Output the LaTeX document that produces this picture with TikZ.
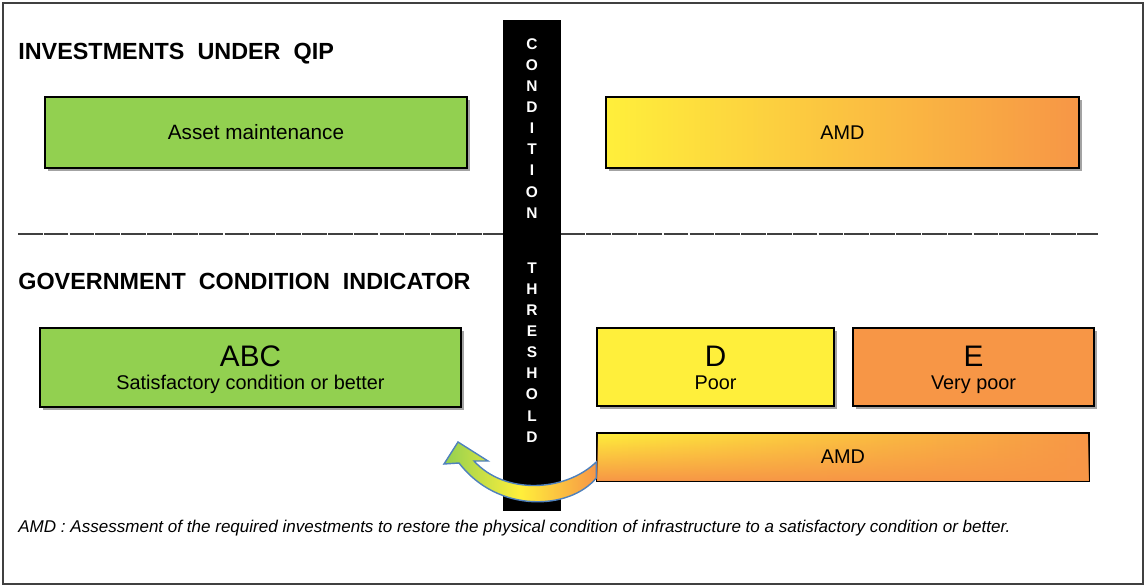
\documentclass[tikz,border=0pt]{standalone}
\usepackage{fontspec}
\setmainfont{Liberation Sans}
\usetikzlibrary{shadows, calc, fadings}
\definecolor{qgreen}{HTML}{92D050}
\definecolor{qyellow}{HTML}{FFEF3B}
\definecolor{qorange}{HTML}{F79646}
\definecolor{qblue}{HTML}{4F81BD}
\definecolor{qgray}{HTML}{404040}

\begin{document}
\begin{tikzpicture}[
  x=0.02cm, y=-0.02cm,
  every node/.style={font=\fontsize{11.3}{13}\selectfont},
  cibox/.style={rectangle, draw=black, line width=0.9pt, inner sep=0pt, align=center},
  shadowed/.style={drop shadow={shadow xshift=1.6pt, shadow yshift=-1.6pt, fill=black!45, opacity=0.8}},
  heading/.style={anchor=west, inner sep=0pt, font=\fontsize{13.3}{16}\selectfont\bfseries},
  barletter/.style={text=white, inner sep=0pt, font=\fontsize{8.8}{10}\selectfont\bfseries},
]
\useasboundingbox (0,0) rectangle (1148,587);

% Frame
\draw[qgray, line width=0.8pt] (3,3) rectangle (1143,584);

% Headings
\node[heading] (hqip) at (18,54) {INVESTMENTS\ \ UNDER\ \ QIP};
\node[heading] (hgci) at (18,281) {GOVERNMENT\ \ CONDITION\ \ INDICATOR};

% Separator
\draw[black!75, line width=0.6pt, dash pattern=on 14pt off 0.7pt] (18,234) -- (1098,234);

% Investments under QIP
\node[cibox, shadowed, fill=qgreen, minimum width=8.44cm, minimum height=1.42cm] (asset) at (256,132.5) {\fontsize{11.8}{13}\selectfont Asset maintenance};
\node[cibox, shadowed, left color=qyellow, right color=qorange, minimum width=9.46cm, minimum height=1.42cm] (amdt) at (842.5,132.5) {AMD};

% Condition indicator
\node[cibox, shadowed, fill=qgreen, minimum width=8.42cm, minimum height=1.58cm] (abc) at (250.5,367.5) {{\fontsize{16.9}{20}\selectfont\rule{0pt}{16pt}ABC}\\Satisfactory condition or better\strut};
\node[cibox, shadowed, fill=qyellow, minimum width=4.74cm, minimum height=1.56cm] (dpoor) at (715.5,367) {{\fontsize{16.9}{20}\selectfont\rule{0pt}{16pt}D}\\Poor\strut};
\node[cibox, shadowed, fill=qorange, minimum width=4.82cm, minimum height=1.56cm] (evpoor) at (973.5,367) {{\fontsize{16.9}{20}\selectfont\rule{0pt}{16pt}E}\\Very poor\strut};
\node[cibox, left color=qyellow, right color=qorange, postaction={fill=qorange, path fading=north},
  minimum width=9.84cm, minimum height=0.96cm] (amdl) at (843,457) {AMD};

% Threshold bar
\node[fill=black, inner sep=0pt, minimum width=1.16cm, minimum height=9.82cm] (thr) at (532,265.5) {};
\foreach \ch [count=\i from 0] in {C,O,N,D,I,T,I,O,N}
  \node[barletter] (c\i) at (532, 44+21.1*\i) {\ch};
\foreach \ch [count=\i from 0] in {T,H,R,E,S,H,O,L,D}
  \node[barletter] (t\i) at (532, 268+21.1*\i) {\ch};

% Curved arrow back to ABC
\path[draw=qblue, line width=0.8pt, left color=qgreen, right color=qorange, middle color=qyellow]
  ($(amdl.west)+(0,21)$) .. controls (570,510) and (498,514) .. (459,463)
  -- (444,464) -- (458,442) -- (488,461) -- (474,461)
  .. controls (505,495) and (565,492) .. ($(amdl.west)+(0,5)$) -- cycle;

% Footnote
\node[anchor=west, inner sep=0pt, font=\fontsize{9.7}{11}\selectfont\itshape] (fnote) at (18,528) {AMD : Assessment of the required investments to restore the physical condition of infrastructure to a satisfactory condition or better.};

\end{tikzpicture}
\end{document}
